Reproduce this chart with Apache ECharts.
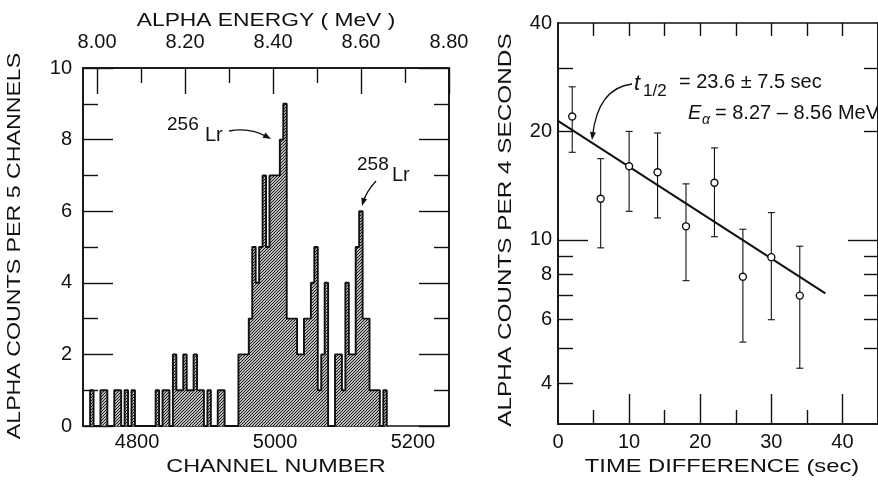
<!DOCTYPE html>
<html lang="en">
<head>
<meta charset="UTF-8">
<title>Lr alpha spectrum and decay</title>
<script src="https://cdn.jsdelivr.net/npm/echarts@6/dist/echarts.min.js"></script>
<style>
  html, body { margin: 0; padding: 0; background: #fff; }
  #main { width: 878px; height: 483px; }
</style>
</head>
<body>
<div id="main"></div>
<script>
// alpha spectrum: counts per 5 channels, first bin starts at channel 4732
var binStart = 4732;
var binWidth = 5;
var binCounts = [
    1, 0, 0, 1, 1, 0, 0, 1, 1, 0,
    1, 0, 1, 0, 0, 0, 0, 0, 0, 1,
    0, 1, 1, 0, 2, 1, 1, 2, 1, 1,
    2, 1, 1, 0, 1, 0, 0, 1, 1, 0,
    0, 0, 0, 2, 2, 2, 3, 5, 4, 5,
    7, 5, 7, 7, 7, 8, 9, 3, 3, 3,
    2, 2, 3, 3, 4, 5, 1, 2, 4, 0,
    0, 2, 2, 1, 4, 2, 2, 5, 6, 3,
    3, 1, 1, 1, 0, 1
];
var channelLabels = [4800, 5000, 5200];
var energyMajor = [8.0, 8.2, 8.4, 8.6, 8.8];
var energyMinor = [8.1, 8.3, 8.5, 8.7];
var countMinor = [1, 3, 5, 7, 9];

// decay: counts per 4 s bin with error bars
var timeCenters = [2, 6, 10, 14, 18, 22, 26, 30, 34];
var decayCounts = [22.0, 13.0, 16.0, 15.4, 10.9, 14.4, 7.9, 8.95, 7.0];
var errLow = [17.5, 9.5, 12.0, 11.5, 7.7, 10.2, 5.2, 6.0, 4.4];
var errHigh = [26.6, 16.8, 20.0, 19.8, 14.3, 18.0, 10.7, 11.9, 9.6];
var fitLine = [[0, 21.4], [37.6, 7.1]];
var timeLabels = [0, 10, 20, 30, 40];
var timeMajor = [10, 20, 30, 40];
var timeMinor = [5, 15, 25, 35];
var timeTop = [5, 10, 15, 20, 25, 30, 35, 40];
var logLabels = [4, 6, 8, 10, 20, 40];
var logMajor = [10];
var logMinorLeft = [4, 5, 6, 7, 8, 9, 20, 30];
var logMinorRight = [5, 6, 7, 8, 9, 20, 30];

var ink = '#111';
var font = 'Liberation Sans';
var rectA = { left: 83, top: 68, width: 366, height: 358 };
var rectB = { left: 558, top: 23, width: 329, height: 401 };
var chMin = 4721.7, chMax = 5252.2;
var eMin = 7.968, eMax = 8.8;
var tMin = 0, tMax = 45;
var logMin = 3.08, logMax = 40;

// dense diagonal hatch for the histogram
var pat = document.createElement('canvas');
pat.width = 3; pat.height = 3;
var pc = pat.getContext('2d');
pc.fillStyle = '#fff';
pc.fillRect(0, 0, 3, 3);
pc.strokeStyle = '#1a1a1a';
pc.lineWidth = 1.2;
pc.beginPath();
pc.moveTo(0, 3); pc.lineTo(3, 0);
pc.moveTo(-1, 1); pc.lineTo(1, -1);
pc.moveTo(2, 4); pc.lineTo(4, 2);
pc.stroke();

// step outline of the histogram, one point per bin edge
var histData = [[binStart, 0]];
binCounts.forEach(function (c, i) {
    histData.push([binStart + binWidth * i, c]);
});
var binEnd = binStart + binWidth * binCounts.length;
histData.push([binEnd, binCounts[binCounts.length - 1]]);
histData.push([binEnd, 0]);

var pointData = timeCenters.map(function (t, i) { return [t, decayCounts[i]]; });
var errData = timeCenters.map(function (t, i) { return [t, errLow[i], errHigh[i]]; });

// one axis per side and grid; ticks drawn inside the frame
function axis(o) {
    var a = {
        gridIndex: o.grid,
        type: o.type || 'value',
        position: o.position,
        min: o.min, max: o.max,
        axisLine: { show: true, onZero: false, lineStyle: { color: ink, width: 1.6 } },
        axisTick: {
            show: !!o.ticks, inside: true, length: o.len || 15,
            lineStyle: { color: ink, width: 1.4 }
        },
        axisLabel: { show: false },
        splitLine: { show: false }
    };
    if (o.type === 'log') a.logBase = 10;
    if (o.ticks && o.ticks !== 'auto') a.axisTick.customValues = o.ticks;
    if (o.interval) a.interval = o.interval;
    if (o.labels) {
        a.axisLabel = {
            show: true, margin: o.margin, fontFamily: font, fontSize: 20, color: ink,
            formatter: o.fmt || function (v) { return String(v); }
        };
        if (o.labels !== 'auto') a.axisLabel.customValues = o.labels;
    }
    return a;
}

// grids 2 and 3 repeat the panels' frames and carry the short ticks
var xAxes = [
    axis({ grid: 0, position: 'bottom', min: chMin, max: chMax, labels: channelLabels, margin: 6 }),
    axis({ grid: 0, position: 'top', min: eMin, max: eMax, ticks: energyMajor, len: 26,
        labels: energyMajor, margin: 16, fmt: function (v) { return v.toFixed(2); } }),
    axis({ grid: 1, position: 'bottom', min: tMin, max: tMax, ticks: timeMajor, len: 30,
        labels: timeLabels, margin: 8 }),
    axis({ grid: 1, position: 'top', min: tMin, max: tMax, ticks: timeTop, len: 13 }),
    axis({ grid: 2, position: 'top', min: eMin, max: eMax, ticks: energyMinor, len: 15 }),
    axis({ grid: 3, position: 'bottom', min: tMin, max: tMax, ticks: timeMinor, len: 14 })
];

var yAxes = [
    axis({ grid: 0, position: 'left', min: 0, max: 10, interval: 2, ticks: 'auto', len: 30,
        labels: 'auto', margin: 11 }),
    axis({ grid: 0, position: 'right', min: 0, max: 10, interval: 2, ticks: 'auto', len: 30 }),
    axis({ grid: 1, type: 'log', position: 'left', min: logMin, max: logMax, ticks: logMajor, len: 30,
        labels: logLabels, margin: 6 }),
    axis({ grid: 1, type: 'log', position: 'right', min: logMin, max: logMax, ticks: logMajor, len: 30 }),
    axis({ grid: 2, position: 'left', min: 0, max: 10, ticks: countMinor, len: 15 }),
    axis({ grid: 2, position: 'right', min: 0, max: 10, ticks: countMinor, len: 15 }),
    axis({ grid: 3, type: 'log', position: 'left', min: logMin, max: logMax, ticks: logMinorLeft, len: 15 }),
    axis({ grid: 3, type: 'log', position: 'right', min: logMin, max: logMax, ticks: logMinorRight, len: 14 })
];

function txt(s, x, y, opt) {
    opt = opt || {};
    return {
        type: 'text', x: x, y: y,
        rotation: opt.rotation || 0,
        scaleX: opt.scaleX || 1,
        z: 100,
        style: {
            text: s, fill: ink,
            fontFamily: font, fontSize: opt.size || 20,
            fontStyle: opt.italic ? 'italic' : 'normal',
            align: opt.align || 'center', textAlign: opt.align || 'center',
            verticalAlign: 'middle', textVerticalAlign: 'middle'
        }
    };
}

function arrow(x1, y1, cx, cy, x2, y2) {
    var dx = x2 - cx, dy = y2 - cy, len = Math.sqrt(dx * dx + dy * dy);
    var ux = dx / len, uy = dy / len, L = 8, W = 3;
    return [
        { type: 'bezierCurve', z: 100,
          shape: { x1: x1, y1: y1, cpx1: cx, cpy1: cy, x2: x2 - ux * 4, y2: y2 - uy * 4 },
          style: { stroke: ink, lineWidth: 1.3, fill: 'none' } },
        { type: 'polygon', z: 100,
          shape: { points: [[x2, y2],
              [x2 - ux * L - uy * W, y2 - uy * L + ux * W],
              [x2 - ux * L + uy * W, y2 - uy * L - ux * W]] },
          style: { fill: ink } }
    ];
}

var graphics = [
    txt('ALPHA ENERGY ( MeV )', 266, 21, { size: 19, scaleX: 1.2 }),
    txt('CHANNEL NUMBER', 276, 467, { size: 19, scaleX: 1.23 }),
    txt('TIME DIFFERENCE (sec)', 722, 467, { size: 19, scaleX: 1.25 }),
    txt('ALPHA COUNTS PER 5 CHANNELS', 15, 246, { size: 19, scaleX: 1.22, rotation: Math.PI / 2 }),
    txt('ALPHA COUNTS PER 4 SECONDS', 506, 230, { size: 19, scaleX: 1.28, rotation: Math.PI / 2 }),
    txt('256', 167, 125, { size: 19, align: 'left' }),
    txt('Lr', 205, 135, { size: 20, align: 'left' }),
    txt('258', 357, 165, { size: 19, align: 'left' }),
    txt('Lr', 392, 175, { size: 20, align: 'left' }),
    txt('t', 634, 84, { size: 22, italic: true, align: 'left' }),
    txt('1/2', 643, 91, { size: 17, align: 'left' }),
    txt('= 23.6 \u00b1 7.5 sec', 679, 82, { size: 20, align: 'left' }),
    txt('E', 688, 113, { size: 20, italic: true, align: 'left' }),
    txt('\u03b1', 702, 120, { size: 14, italic: true, align: 'left' }),
    txt('= 8.27 \u2013 8.56 MeV', 715, 113, { size: 20, align: 'left' })
].concat(
    arrow(229, 131, 250, 127, 271, 139),
    arrow(376, 181, 366, 192, 362, 206),
    arrow(632, 84, 598, 88, 592, 140)
);

var option = {
    backgroundColor: '#fff',
    animation: false,
    grid: [
        echarts.util.extend({}, rectA),
        echarts.util.extend({}, rectB),
        echarts.util.extend({}, rectA),
        echarts.util.extend({}, rectB)
    ],
    xAxis: xAxes,
    yAxis: yAxes,
    graphic: graphics,
    series: [
        {
            type: 'line',
            xAxisIndex: 0, yAxisIndex: 0,
            step: 'end',
            symbol: 'none',
            lineStyle: { color: ink, width: 1.9 },
            areaStyle: { color: { image: pat, repeat: 'repeat' }, opacity: 1 },
            data: histData
        },
        {
            type: 'line',
            xAxisIndex: 2, yAxisIndex: 2,
            symbol: 'none',
            lineStyle: { color: ink, width: 2 },
            data: fitLine
        },
        {
            type: 'custom',
            xAxisIndex: 2, yAxisIndex: 2,
            encode: { x: 0, y: [1, 2] },
            renderItem: function (params, api) {
                var lo = api.coord([api.value(0), api.value(1)]);
                var hi = api.coord([api.value(0), api.value(2)]);
                var w = 3.5, st = { stroke: ink, lineWidth: 1.1 };
                return {
                    type: 'group',
                    children: [
                        { type: 'line', shape: { x1: lo[0], y1: lo[1], x2: hi[0], y2: hi[1] }, style: st },
                        { type: 'line', shape: { x1: lo[0] - w, y1: lo[1], x2: lo[0] + w, y2: lo[1] }, style: st },
                        { type: 'line', shape: { x1: hi[0] - w, y1: hi[1], x2: hi[0] + w, y2: hi[1] }, style: st }
                    ]
                };
            },
            data: errData
        },
        {
            type: 'scatter',
            xAxisIndex: 2, yAxisIndex: 2,
            symbol: 'circle',
            symbolSize: 7,
            z: 5,
            itemStyle: { color: '#fff', borderColor: ink, borderWidth: 1.4, opacity: 1 },
            data: pointData
        }
    ]
};

var myChart = echarts.init(document.getElementById('main'));
myChart.setOption(option);
</script>
</body>
</html>
